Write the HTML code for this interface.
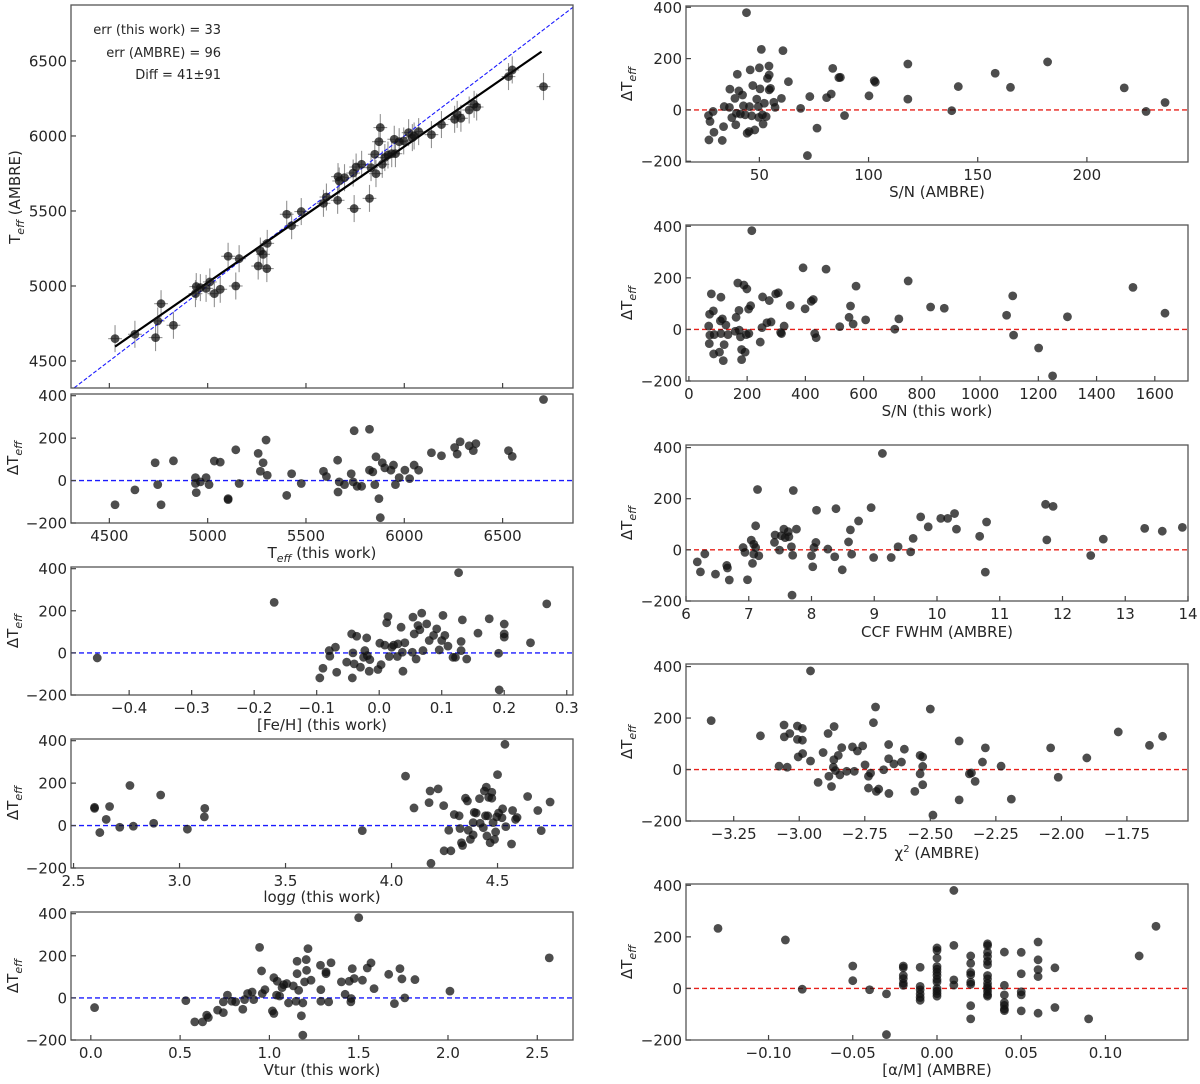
<!DOCTYPE html>
<html><head><meta charset="utf-8"><title>Teff comparison</title>
<style>
html,body{margin:0;padding:0;background:#fff;}
svg text{font-family:"DejaVu Sans","Liberation Sans",sans-serif;fill:#262626;}
</style></head>
<body>
<svg id="fig" width="1200" height="1079" viewBox="0 0 1200 1079" xmlns="http://www.w3.org/2000/svg">
<rect x="0" y="0" width="1200" height="1079" fill="#fff"/>
<g font-size="13" text-anchor="end">
<text x="221" y="34">err (this work)  = 33</text>
<text x="221" y="57">err (AMBRE) = 96</text>
<text x="221" y="79">Diff = 41±91</text>
</g>
<g font-size="15" text-anchor="middle">
<text transform="translate(20,197) rotate(-90)">T<tspan font-size="11" font-style="italic" dy="4">eff</tspan><tspan dy="-4"> (AMBRE)</tspan></text>
<text transform="translate(18,458) rotate(-90)">ΔT<tspan font-size="11" font-style="italic" dy="4">eff</tspan></text>
<text transform="translate(18,631) rotate(-90)">ΔT<tspan font-size="11" font-style="italic" dy="4">eff</tspan></text>
<text transform="translate(18,803) rotate(-90)">ΔT<tspan font-size="11" font-style="italic" dy="4">eff</tspan></text>
<text transform="translate(18,976) rotate(-90)">ΔT<tspan font-size="11" font-style="italic" dy="4">eff</tspan></text>
<text transform="translate(632,84) rotate(-90)">ΔT<tspan font-size="11" font-style="italic" dy="4">eff</tspan></text>
<text transform="translate(632,303) rotate(-90)">ΔT<tspan font-size="11" font-style="italic" dy="4">eff</tspan></text>
<text transform="translate(632,523) rotate(-90)">ΔT<tspan font-size="11" font-style="italic" dy="4">eff</tspan></text>
<text transform="translate(632,742) rotate(-90)">ΔT<tspan font-size="11" font-style="italic" dy="4">eff</tspan></text>
<text transform="translate(632,962) rotate(-90)">ΔT<tspan font-size="11" font-style="italic" dy="4">eff</tspan></text>
<text x="322" y="558">T<tspan font-size="11" font-style="italic" dy="4">eff</tspan><tspan dy="-4"> (this work)</tspan></text>
<text x="322" y="730">[Fe/H] (this work)</text>
<text x="322" y="902">log<tspan font-style="italic">g</tspan> (this work)</text>
<text x="322" y="1075">Vtur (this work)</text>
<text x="937" y="197">S/N (AMBRE)</text>
<text x="937" y="416">S/N (this work)</text>
<text x="937" y="637">CCF FWHM (AMBRE)</text>
<text x="937" y="858">χ<tspan font-size="10" dy="-6">2</tspan><tspan dy="6"> (AMBRE)</tspan></text>
<text x="937" y="1075">[α/M] (AMBRE)</text>
</g>
</svg>
<script>
// ---------- Data ----------
const teffThis = [4529,4630,4735,4746,4763,4826,4938,4942,4963,4992,5011,5034,5064,5104,5143,5160,5257,5268,5282,5301,5303,5402,5427,5476,5589,5604,5661,5663,5669,5696,5740,5745,5755,5783,5823,5831,5850,5856,5871,5878,5888,5901,5917,5936,5949,5955,5974,5997,6022,6041,6050,6073,6138,6189,6256,6269,6288,6330,6355,6368,6530,6549,6708];
const teffAmbre = [4649,4678,4656,4767,4882,4738,4949,4996,4989,4984,5027,4949,4978,5198,5000,5182,5133,5233,5211,5116,5284,5478,5402,5496,5551,5593,5571,5729,5700,5722,5753,5516,5793,5811,5584,5789,5878,5749,5962,6056,5811,5856,5873,5882,5978,5882,5962,5967,6022,5989,6000,6029,6009,6076,6111,6144,6118,6173,6211,6193,6396,6440,6329];
const teffErrThis = 35;
const teffErrAmbre = 90;
const fitX = [4529, 6698];
const fitY = [4596, 6562];
const mainTicksX = [4500,5000,5500,6000,6500];
const mainTicksY = [4500,5000,5500,6000,6500];
const mainTickLabelsY = ["4500","5000","5500","6000","6500"];

const dTicks = [-200,0,200,400];
const dTickLabels = ["−200","0","200","400"];

const p2X = [4529,4630,4733,4746,4763,4826,4938,4938,4942,4963,4992,5007,5034,5064,5104,5104,5143,5160,5257,5268,5282,5297,5303,5402,5427,5476,5589,5604,5661,5663,5669,5696,5730,5740,5745,5760,5783,5823,5823,5840,5850,5856,5871,5878,5888,5901,5932,5945,5955,5974,6003,6027,6050,6073,6138,6189,6256,6269,6284,6330,6351,6364,6530,6549,6708];
const p2Y = [-114,-44,84,-19,-114,93,14,-14,-57,-6,14,-19,92,87,-85,-90,145,-14,128,44,84,191,25,-70,32,-14,44,19,96,-54,-6,-19,32,-6,235,-27,-27,242,49,41,-19,112,-85,-175,84,60,49,73,-19,14,49,9,73,49,131,117,156,125,183,164,141,174,141,114,382];
const p2TickLabels = ["4500","5000","5500","6000","6500"];

const p3X = [-0.451,-0.168,-0.095,-0.090,-0.080,-0.079,-0.070,-0.068,-0.052,-0.044,-0.043,-0.042,-0.040,-0.036,-0.030,-0.023,-0.020,-0.025,-0.019,-0.015,-0.016,-0.002,0.001,0.003,0.009,0.012,0.014,0.016,0.020,0.023,0.029,0.030,0.035,0.037,0.038,0.041,0.053,0.054,0.056,0.059,0.062,0.065,0.068,0.070,0.076,0.080,0.087,0.092,0.096,0.102,0.100,0.105,0.110,0.118,0.122,0.127,0.131,0.131,0.133,0.140,0.158,0.176,0.191,0.192,0.200,0.200,0.200,0.242,0.268];
const p3Y = [-24,240,-119,-73,11,-16,27,-92,-44,90,-119,0,-52,79,-68,11,71,-21,-13,-32,-87,-79,46,-56,37,143,173,-17,27,37,-17,43,122,3,-87,48,3,170,90,-29,130,110,189,11,138,59,83,114,14,178,59,83,32,-21,-21,381,54,11,157,-29,94,162,-2,-176,137,90,75,48,233];
const p3Ticks = [-0.4,-0.3,-0.2,-0.1,0.0,0.1,0.2,0.3];
const p3TickLabels = ["−0.4","−0.3","−0.2","−0.1","0.0","0.1","0.2","0.3"];

const p4X = [2.599,2.599,2.624,2.670,2.654,2.718,2.766,2.782,2.878,2.911,3.037,3.119,3.117,3.862,4.066,4.106,4.177,4.182,4.186,4.220,4.246,4.248,4.270,4.280,4.296,4.319,4.323,4.330,4.335,4.349,4.358,4.362,4.372,4.385,4.385,4.390,4.399,4.415,4.418,4.433,4.438,4.443,4.447,4.450,4.454,4.458,4.465,4.473,4.473,4.479,4.486,4.491,4.496,4.500,4.505,4.521,4.524,4.535,4.539,4.566,4.571,4.585,4.592,4.642,4.690,4.706,4.748];
const p4Y = [86,81,-33,90,29,-8,189,-3,11,144,-17,81,41,-24,233,83,108,163,-178,173,94,-119,-22,-119,52,46,-14,-81,-94,129,116,-22,-65,-44,14,62,59,127,11,-10,163,46,181,-49,46,133,-81,157,129,14,-65,-30,41,240,59,37,79,383,-5,-87,71,29,38,137,71,-24,111];
const p4Ticks = [2.5,3.0,3.5,4.0,4.5];
const p4TickLabels = ["2.5","3.0","3.5","4.0","4.5"];

const p5X = [0.021,0.532,0.582,0.626,0.649,0.658,0.710,0.742,0.742,0.765,0.790,0.811,0.851,0.861,0.878,0.903,0.912,0.945,0.956,0.960,0.975,1.017,1.025,1.025,1.040,1.044,1.057,1.071,1.080,1.097,1.107,1.134,1.149,1.155,1.155,1.164,1.179,1.187,1.187,1.197,1.206,1.208,1.216,1.233,1.286,1.288,1.288,1.317,1.317,1.332,1.345,1.403,1.424,1.447,1.456,1.458,1.464,1.475,1.500,1.521,1.548,1.569,1.586,1.668,1.700,1.731,1.742,1.758,1.815,2.011,2.567];
const p5Y = [-46,-13,-114,-114,-82,-93,-58,-70,-19,13,-16,-19,-54,-8,21,28,-8,240,128,21,39,-62,-74,96,13,79,9,49,63,68,-24,57,-16,174,115,36,-85,-177,-24,76,182,131,234,84,155,39,-16,123,115,-19,167,76,17,79,-19,-3,139,92,381,84,142,166,44,112,-27,139,90,0,87,32,190];
const p5Ticks = [0.0,0.5,1.0,1.5,2.0,2.5];
const p5TickLabels = ["0.0","0.5","1.0","1.5","2.0","2.5"];

const r1X = [26.7,27.4,26.9,28.8,29.2,33.0,33.6,33.9,36.5,36.3,37.4,38.8,39.2,39.9,40.6,39.5,41.3,42.3,42.7,43.5,44.1,44.4,45.3,45.8,45.5,46.5,47.0,47.9,48.8,49.5,50.0,49.7,50.3,50.9,51.4,51.7,52.3,53.1,53.7,54.4,54.5,54.5,55.1,56.6,57.2,60.1,60.8,63.3,68.9,72.0,73.1,76.4,80.8,82.9,83.6,86.4,87.1,89.0,100.2,102.6,103.1,118.0,118.0,138.1,141.1,158.0,165.0,182.0,217.1,227.1,235.8];
const r1Y = [-22,-45,-117,-6,-87,-119,-65,13,81,10,-30,45,-58,139,74,-13,-16,58,16,-19,379,-91,-84,156,13,-23,95,-78,42,13,164,-29,82,236,-19,-55,26,-26,123,171,136,78,84,30,10,45,231,110,6,-178,52,-71,48,62,162,126,127,-22,55,114,108,179,42,-3,91,143,88,187,86,-6,29];
const r1Ticks = [50,100,150,200];
const r1TickLabels = ["50","100","150","200"];

const r2X = [68,70,71,72,77,84,85,87,105,108,110,110,115,118,121,127,134,159,162,168,172,173,177,181,181,189,193,197,199,205,206,212,216,245,251,253,268,276,282,298,307,315,318,327,348,392,399,420,427,432,437,471,518,550,555,564,574,607,707,721,753,830,877,1091,1112,1115,1201,1249,1300,1525,1635];
const r2Y = [13,-55,59,-22,138,72,-95,-20,-88,33,125,-16,41,-121,-59,17,-20,-7,47,180,74,-3,-29,-117,-78,172,-88,-20,157,79,-16,92,383,-49,7,126,26,112,29,138,142,-12,-16,13,93,239,80,109,116,-16,-32,234,11,47,91,21,168,37,1,41,188,87,82,55,130,-22,-72,-180,49,163,63];
const r2Ticks = [0,200,400,600,800,1000,1200,1400,1600];
const r2TickLabels = ["0","200","400","600","800","1000","1200","1400","1600"];

const r3X = [6.18,6.23,6.30,6.47,6.65,6.66,6.69,6.91,6.94,6.98,7.04,7.06,7.08,7.08,7.11,7.11,7.14,7.16,7.41,7.42,7.49,7.52,7.56,7.58,7.63,7.64,7.68,7.70,7.69,7.71,7.76,8.00,8.02,8.04,8.07,8.08,8.26,8.37,8.39,8.49,8.59,8.62,8.64,8.75,8.95,8.99,9.13,9.27,9.38,9.58,9.62,9.74,9.86,10.06,10.17,10.28,10.31,10.68,10.77,10.79,11.73,11.75,11.85,12.45,12.65,13.31,13.59,13.91];
const r3Y = [-47,-86,-16,-95,-61,-71,-118,9,-10,-117,38,-53,22,-17,94,9,236,-23,29,58,-1,55,81,48,71,51,12,-21,-177,232,81,-23,-66,9,29,155,3,-27,161,-78,31,78,-17,113,165,-30,377,-30,12,-8,45,129,90,123,123,142,81,53,-87,109,178,39,170,-22,42,84,73,88];
const r3Ticks = [6,7,8,9,10,11,12,13,14];
const r3TickLabels = ["6","7","8","9","10","11","12","13","14"];

const r4X = [-3.336,-3.148,-3.077,-3.058,-3.057,-3.046,-3.036,-3.007,-3.007,-3.004,-2.988,-2.988,-2.987,-2.957,-2.957,-2.928,-2.909,-2.890,-2.887,-2.877,-2.870,-2.868,-2.867,-2.862,-2.851,-2.845,-2.838,-2.819,-2.797,-2.790,-2.778,-2.758,-2.749,-2.736,-2.736,-2.728,-2.717,-2.709,-2.706,-2.697,-2.678,-2.659,-2.659,-2.658,-2.639,-2.610,-2.599,-2.559,-2.539,-2.539,-2.529,-2.529,-2.529,-2.500,-2.490,-2.390,-2.390,-2.351,-2.343,-2.329,-2.301,-2.290,-2.230,-2.191,-2.041,-2.012,-1.903,-1.783,-1.664,-1.614];
const r4Y = [190,131,13,173,127,9,140,169,117,49,160,114,62,383,33,-50,66,140,-26,-66,9,38,167,-4,55,-21,85,-7,88,-7,72,92,18,-26,-72,-14,182,243,-85,-76,-1,97,42,-93,22,29,79,-85,55,-17,49,12,-59,235,-177,111,-118,-17,-13,-46,29,84,13,-115,84,-30,45,146,94,129];
const r4Ticks = [-3.25,-3.0,-2.75,-2.5,-2.25,-2.0,-1.75];
const r4TickLabels = ["−3.25","−3.00","−2.75","−2.50","−2.25","−2.00","−1.75"];

const r5X = [-0.13,-0.09,-0.08,-0.05,-0.05,-0.04,-0.03,-0.03,-0.02,-0.02,-0.02,-0.02,-0.02,-0.02,-0.01,-0.01,-0.01,-0.01,-0.01,-0.01,0,0,0,0,0,0,0,0,0,0,0,0,0,0.01,0.01,0.01,0.01,0.02,0.02,0.02,0.02,0.02,0.02,0.02,0.02,0.03,0.03,0.03,0.03,0.03,0.03,0.03,0.03,0.03,0.03,0.03,0.03,0.03,0.03,0.04,0.04,0.04,0.04,0.04,0.04,0.04,0.05,0.05,0.05,0.05,0.05,0.06,0.06,0.06,0.06,0.06,0.07,0.07,0.09,0.12,0.13];
const r5Y = [233,188,-3,87,30,-5,-21,-179,87,80,50,38,20,12,82,8,-5,-21,-35,-46,157,147,118,85,75,63,50,35,25,0,-10,-20,-30,380,167,33,13,126,97,62,53,24,16,-67,-118,173,166,140,124,105,92,50,37,20,8,0,-12,-24,-30,141,12,-25,-55,-66,-80,-86,140,57,-13,-25,-87,180,111,73,46,-96,80,-74,-118,126,241];
const r5Ticks = [-0.10,-0.05,0.00,0.05,0.10];
const r5TickLabels = ["−0.10","−0.05","0.00","0.05","0.10"];

// ---------- Drawing ----------
const NS = "http://www.w3.org/2000/svg";
const svg = document.getElementById("fig");
function mk(tag, attrs, parent){
  const e = document.createElementNS(NS, tag);
  for (const k in attrs) e.setAttribute(k, attrs[k]);
  parent.appendChild(e);
  return e;
}
function scale(d0,d1,p0,p1){ return v => p0 + (v-d0)/(d1-d0)*(p1-p0); }

let clipId = 0;
function drawPanel(p){
  const g = mk("g", {}, svg);
  
  
  const sx = scale(p.xlim[0], p.xlim[1], p.x0, p.x1);
  const sy = scale(p.ylim[0], p.ylim[1], p.y1, p.y0);
  const cid = "clip" + (clipId++);
  const cp = mk("clipPath", {id: cid}, g);
  mk("rect", {x:p.x0, y:p.y0, width:p.x1-p.x0, height:p.y1-p.y0}, cp);
  const plot = mk("g", {"clip-path":"url(#"+cid+")"}, g);
  
  
  if (p.refColor){
    const l = mk("line", {x1:p.x0, x2:p.x1, y1:sy(0), y2:sy(0), stroke:p.refColor, "stroke-width":1.4, "stroke-dasharray":"5,3"}, plot);
    
    
  }
  if (p.extra) p.extra(plot, sx, sy);
  for (let i=0;i<p.xs.length;i++){
    const c = mk("circle", {cx:sx(p.xs[i]), cy:sy(p.ys[i]), r:4.4, fill:"#111", "fill-opacity":0.75}, plot);
    
    
  }
  const fr = mk("rect", {x:p.x0, y:p.y0, width:p.x1-p.x0, height:p.y1-p.y0, fill:"none", stroke:"#555", "stroke-width":1.3}, g);
  
  
  // x ticks
  p.xticks.forEach((v,i)=>{
    const x = sx(v);
    const t = mk("line", {x1:x, x2:x, y1:p.y1, y2:p.y1-5, stroke:"#444", "stroke-width":1.2}, g);
    
    
    if (p.xlabels){
      const tx = mk("text", {x:x, y:p.y1+18, "font-size":15, "text-anchor":"middle"}, g);
      
      
      tx.textContent = p.xlabels[i];
    }
  });
  // y ticks
  p.yticks.forEach((v,i)=>{
    const y = sy(v);
    const t = mk("line", {x1:p.x0, x2:p.x0+5, y1:y, y2:y, stroke:"#444", "stroke-width":1.2}, g);
    
    
    const tx = mk("text", {x:p.x0-4, y:y+5.5, "font-size":15, "text-anchor":"end"}, g);
    
    
    tx.textContent = p.ylabels[i];
  });
}

const LX0=71, LX1=573, RX0=686, RX1=1188;

drawPanel({name:"teff-comparison-panel", x0:LX0, x1:LX1, y0:5, y1:388, xlim:[4305,6858], ylim:[4320,6873],
  xs:teffThis, ys:teffAmbre, xticks:mainTicksX, xlabels:null, yticks:mainTicksY, ylabels:mainTickLabelsY,
  extra:(g,sx,sy)=>{
    for (let i=0;i<teffThis.length;i++){
      const a = mk("line", {x1:sx(teffThis[i]-teffErrThis), x2:sx(teffThis[i]+teffErrThis), y1:sy(teffAmbre[i]), y2:sy(teffAmbre[i]), stroke:"#777", "stroke-width":1.1, "stroke-opacity":0.8}, g);
      
      
      const b = mk("line", {x1:sx(teffThis[i]), x2:sx(teffThis[i]), y1:sy(teffAmbre[i]-teffErrAmbre), y2:sy(teffAmbre[i]+teffErrAmbre), stroke:"#777", "stroke-width":1.1, "stroke-opacity":0.8}, g);
      
      
    }
    const one = mk("line", {x1:sx(4200), y1:sy(4200), x2:sx(7000), y2:sy(7000), stroke:"#1a1aff", "stroke-width":1.1, "stroke-dasharray":"4,2"}, g);
    
    
    const fit = mk("line", {x1:sx(fitX[0]), y1:sy(fitY[0]), x2:sx(fitX[1]), y2:sy(fitY[1]), stroke:"#000", "stroke-width":2.2}, g);
    
    
  }});

drawPanel({name:"delta-vs-teff-panel", x0:LX0,x1:LX1,y0:394,y1:523, xlim:[4305,6858], ylim:[-200,408], xs:p2X, ys:p2Y, xticks:mainTicksX, xlabels:p2TickLabels, yticks:dTicks, ylabels:dTickLabels, refColor:"#1a1aff"});
drawPanel({name:"delta-vs-feh-panel", x0:LX0,x1:LX1,y0:567,y1:695, xlim:[-0.493,0.31], ylim:[-200,408], xs:p3X, ys:p3Y, xticks:p3Ticks, xlabels:p3TickLabels, yticks:dTicks, ylabels:dTickLabels, refColor:"#1a1aff"});
drawPanel({name:"delta-vs-logg-panel", x0:LX0,x1:LX1,y0:739,y1:868, xlim:[2.488,4.856], ylim:[-200,408], xs:p4X, ys:p4Y, xticks:p4Ticks, xlabels:p4TickLabels, yticks:dTicks, ylabels:dTickLabels, refColor:"#1a1aff"});
drawPanel({name:"delta-vs-vtur-panel", x0:LX0,x1:LX1,y0:912,y1:1040, xlim:[-0.111,2.70], ylim:[-200,408], xs:p5X, ys:p5Y, xticks:p5Ticks, xlabels:p5TickLabels, yticks:dTicks, ylabels:dTickLabels, refColor:"#1a1aff"});

drawPanel({name:"delta-vs-sn-ambre-panel", x0:RX0,x1:RX1,y0:6,y1:162, xlim:[16.4,246.3], ylim:[-203,405], xs:r1X, ys:r1Y, xticks:r1Ticks, xlabels:r1TickLabels, yticks:dTicks, ylabels:dTickLabels, refColor:"#e8201a"});
drawPanel({name:"delta-vs-sn-this-panel", x0:RX0,x1:RX1,y0:225,y1:381, xlim:[-10,1714], ylim:[-200,405], xs:r2X, ys:r2Y, xticks:r2Ticks, xlabels:r2TickLabels, yticks:dTicks, ylabels:dTickLabels, refColor:"#e8201a"});
drawPanel({name:"delta-vs-fwhm-panel", x0:RX0,x1:RX1,y0:445,y1:601, xlim:[6,14], ylim:[-200,410], xs:r3X, ys:r3Y, xticks:r3Ticks, xlabels:r3TickLabels, yticks:dTicks, ylabels:dTickLabels, refColor:"#e8201a"});
drawPanel({name:"delta-vs-chi2-panel", x0:RX0,x1:RX1,y0:664,y1:821, xlim:[-3.432,-1.517], ylim:[-200,410], xs:r4X, ys:r4Y, xticks:r4Ticks, xlabels:r4TickLabels, yticks:dTicks, ylabels:dTickLabels, refColor:"#e8201a"});
drawPanel({name:"delta-vs-alpha-panel", x0:RX0,x1:RX1,y0:884,y1:1040, xlim:[-0.149,0.149], ylim:[-200,405], xs:r5X, ys:r5Y, xticks:r5Ticks, xlabels:r5TickLabels, yticks:dTicks, ylabels:dTickLabels, refColor:"#e8201a"});
</script>
</body></html>
